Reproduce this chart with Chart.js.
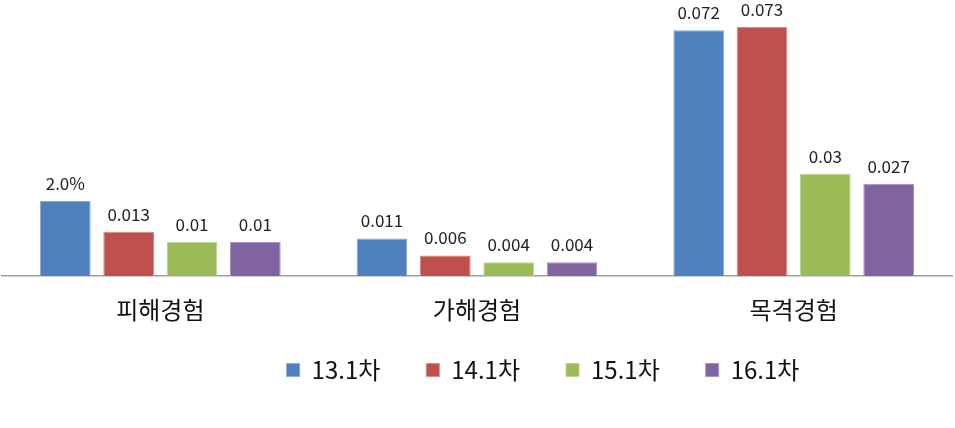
<!DOCTYPE html>
<html>
<head>
<meta charset="utf-8">
<script src="https://cdn.jsdelivr.net/npm/chart.js@4/dist/chart.umd.min.js"></script>
<style>
    body { margin: 0; background: #fff; }
    #wrap { width: 955px; height: 428px; }
</style>
</head>
<body>
<div id="wrap"><canvas id="myChart"></canvas></div>
<script>
let categories = ["피해경험", "가해경험", "목격경험"];
let seriesNames = ["13.1차", "14.1차", "15.1차", "16.1차"];
let s131 = [0.022, 0.011, 0.072];
let s141 = [0.013, 0.006, 0.073];
let s151 = [0.01, 0.004, 0.03];
let s161 = [0.01, 0.004, 0.027];
// labels as printed on the picture
let l131 = ["2.0%", "0.011", "0.072"];
let l141 = ["0.013", "0.006", "0.073"];
let l151 = ["0.01", "0.004", "0.03"];
let l161 = ["0.01", "0.004", "0.027"];

let colors = ["#4F81BD", "#C0504D", "#9BBB59", "#8064A2"];
let borders = ["#8BAAD6", "#D88A88", "#BDD494", "#A893C2"];
let values = [s131, s141, s151, s161];
let printed = [l131, l141, l151, l161];
let fontFam = "'Noto Sans CJK KR', 'Noto Sans', sans-serif";

let valueLabels = {
    id: "valueLabels",
    afterLayout: function (chart)
    {
        // let the category labels run below the squeezed x axis box
        chart.scales.x.bottom = chart.height;
        // legend sits a bit right of centre in the original
        chart.legend.left += 66;
        chart.legend.right += 66;
    },
    afterDatasetsDraw: function (chart)
    {
        let ctx = chart.ctx;
        ctx.save();
        ctx.font = "17px " + fontFam;
        ctx.fillStyle = "#222";
        ctx.textAlign = "center";
        ctx.textBaseline = "bottom";
        chart.data.datasets.forEach(function (ds, i)
        {
            let meta = chart.getDatasetMeta(i);
            meta.data.forEach(function (bar, j)
            {
                ctx.fillText(printed[i][j], bar.x, bar.y - 9);
            });
        });
        ctx.restore();
    }
};

let datasets = [];
for (let i = 0; i < seriesNames.length; i++)
{
    datasets.push({
        label: seriesNames[i],
        data: values[i],
        backgroundColor: colors[i],
        borderColor: borders[i],
        borderWidth: 1,
        categoryPercentage: 0.8,
        barPercentage: 0.8
    });
}

new Chart(document.getElementById("myChart"), {
    type: "bar",
    data: { labels: categories, datasets: datasets },
    options: {
        responsive: true,
        maintainAspectRatio: false,
        animation: false,
        layout: { padding: { left: 2, right: 3, top: 3, bottom: 36 } },
        scales: {
            x: {
                grid: { display: false },
                border: { display: true, color: "#A0A0A0", width: 1.5 },
                ticks: { color: "#111", font: { size: 24, family: fontFam }, padding: 11 },
                afterFit: function (scale) { scale.height = 36; }
            },
            y: {
                display: false,
                min: 0,
                max: 0.08
            }
        },
        plugins: {
            legend: {
                position: "bottom",
                labels: {
                    color: "#111",
                    font: { size: 24, family: fontFam },
                    boxWidth: 13,
                    boxHeight: 13,
                    padding: 46
                }
            },
            tooltip: { enabled: false }
        }
    },
    plugins: [valueLabels]
});
</script>
</body>
</html>
